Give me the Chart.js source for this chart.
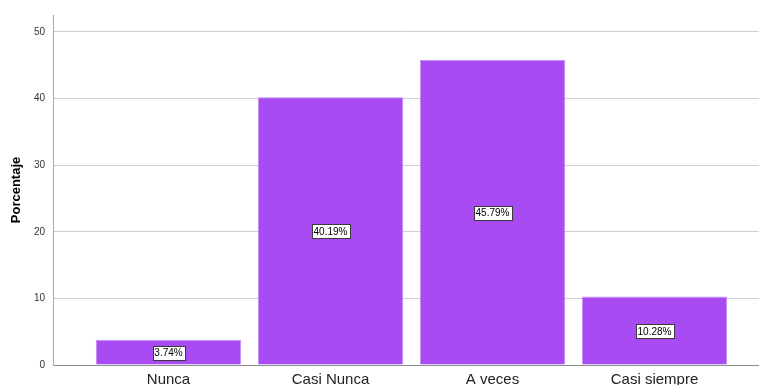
<!DOCTYPE html>
<html>
<head>
<meta charset="utf-8">
<script src="https://cdn.jsdelivr.net/npm/chart.js@4/dist/chart.umd.min.js"></script>
<style>
  html, body { margin: 0; padding: 0; background: #fff; }
  #wrap { width: 759px; height: 385px; }
</style>
</head>
<body>
<div id="wrap"><canvas id="chart" width="759" height="385"></canvas></div>
<script>
const categories = ["Nunca", "Casi Nunca", "A veces", "Casi siempre"];
const percentages = [3.74, 40.19, 45.79, 10.28];
const yTicks = [0, 10, 20, 30, 40, 50];

const FONT = "'Liberation Sans', Arial, sans-serif";

// boxed percentage label in the middle of each bar
const valueBoxes = {
  id: "valueBoxes",
  afterDatasetsDraw(chart) {
    const { ctx, scales } = chart;
    const meta = chart.getDatasetMeta(0);
    ctx.save();
    ctx.font = "10px " + FONT;
    ctx.textAlign = "center";
    ctx.textBaseline = "middle";
    meta.data.forEach((bar, i) => {
      const text = percentages[i].toFixed(2) + "%";
      const x = bar.x;
      const y = scales.y.getPixelForValue(percentages[i] / 2);
      const w = Math.round(ctx.measureText(text).width + 4);
      const h = 14;
      const bx = Math.round(x - w / 2) + 0.5;
      const by = Math.round(y - h / 2) + 0.5;
      ctx.fillStyle = "#ffffff";
      ctx.fillRect(bx, by, w, h);
      ctx.strokeStyle = "#3a3a3a";
      ctx.lineWidth = 1;
      ctx.strokeRect(bx, by, w, h);
      ctx.fillStyle = "#000000";
      ctx.fillText(text, x, y + 1);
    });
    ctx.restore();
  }
};

new Chart(document.getElementById("chart"), {
  type: "bar",
  data: {
    datasets: [{
      data: percentages.map((v, i) => ({ x: i, y: v })),
      backgroundColor: "#a94bf2",
      borderColor: "#c58cf7",
      borderWidth: 1,
      barPercentage: 0.898,
      categoryPercentage: 1
    }]
  },
  options: {
    responsive: false,
    animation: false,
    layout: { padding: { top: 15, right: 0, left: 0, bottom: 0 } },
    plugins: { legend: { display: false }, tooltip: { enabled: false } },
    scales: {
      x: {
        type: "linear",
        offset: false,
        min: -0.713,
        max: 3.645,
        afterBuildTicks: (axis) => { axis.ticks = categories.map((_, i) => ({ value: i })); },
        afterFit: (axis) => { axis.height = 20; },
        grid: { display: false, drawTicks: false },
        border: { color: "#8c8c8c", width: 1 },
        ticks: {
          autoSkip: false,
          maxRotation: 0,
          padding: 6,
          color: "#222",
          font: { family: FONT, size: 15 },
          callback: (v) => categories[v]
        }
      },
      y: {
        min: 0,
        max: 52.55,
        afterBuildTicks: (axis) => { axis.ticks = yTicks.map((v) => ({ value: v })); },
        afterFit: (axis) => { axis.width = 53; },
        grid: { color: "#cfcfcf", drawTicks: false },
        border: { color: "#a8a8a8", width: 1 },
        ticks: {
          padding: 8,
          color: "#333",
          font: { family: FONT, size: 10 }
        },
        title: {
          display: true,
          text: "Porcentaje",
          color: "#000",
          font: { family: FONT, size: 13, weight: "bold" },
          padding: { top: 9, bottom: 0 }
        }
      }
    }
  },
  plugins: [valueBoxes]
});
</script>
</body>
</html>
